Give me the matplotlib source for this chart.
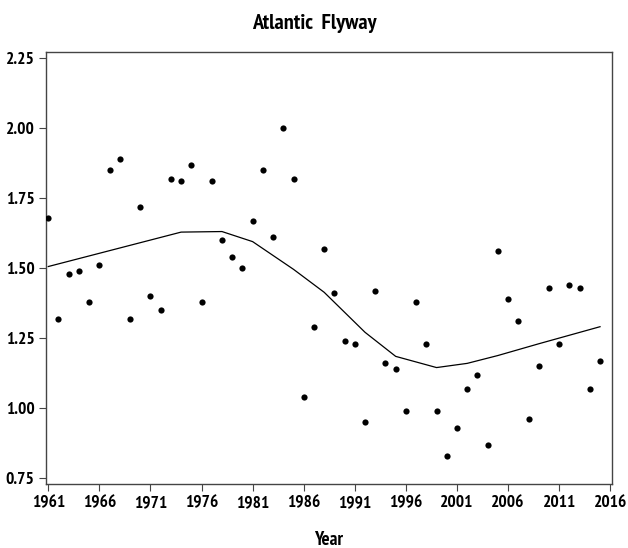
import matplotlib.pyplot as plt
import numpy as np

years = np.arange(1961, 2016)
ratio = [1.68, 1.32, 1.48, 1.49, 1.38, 1.51, 1.85, 1.89, 1.32, 1.72,
         1.40, 1.35, 1.82, 1.81, 1.87, 1.38, 1.81, 1.60, 1.54, 1.50,
         1.67, 1.85, 1.61, 2.00, 1.82, 1.04, 1.29, 1.57, 1.41, 1.24,
         1.23, 0.95, 1.42, 1.16, 1.14, 0.99, 1.38, 1.23, 0.99, 0.83,
         0.93, 1.07, 1.12, 0.87, 1.56, 1.39, 1.31, 0.96, 1.15, 1.43,
         1.23, 1.44, 1.43, 1.07, 1.17]

# smoothed trend
trend_years = [1961, 1974, 1978, 1981, 1985, 1988, 1992, 1995, 1999, 2002, 2005, 2009, 2015]
trend_vals = [1.506, 1.629, 1.631, 1.595, 1.496, 1.414, 1.271, 1.185, 1.145, 1.160, 1.188, 1.230, 1.291]

xticks = np.arange(1961, 2017, 5)
yticks = [0.75, 1.00, 1.25, 1.50, 1.75, 2.00, 2.25]

plt.rcParams['font.family'] = ['PT Sans Narrow', 'Liberation Sans']
plt.rcParams['font.weight'] = 'bold'
plt.rcParams['axes.labelweight'] = 'bold'

fig = plt.figure(figsize=(6.28, 5.48), dpi=100)
ax = fig.add_axes([0.0728, 0.1168, 0.9022, 0.7883])

ax.plot(trend_years, trend_vals, color='black', lw=0.9)
ax.scatter(years, ratio, s=20, color='black', zorder=3, linewidths=0)

ax.set_xlim(1960.75, 2016.2)
ax.set_ylim(0.729, 2.2725)
ax.set_xticks(xticks)
ax.set_yticks(yticks)
ax.set_yticklabels([f'{v:.2f}' for v in yticks])
ax.tick_params(direction='out', length=5, width=0.8, colors='#444444',
               labelcolor='black', labelsize=12.5, pad=3)
for s in ax.spines.values():
    s.set_color('#444444')
    s.set_linewidth(1)

ax.set_xlabel('Year', fontsize=13.5, labelpad=14)
fig.text(0.5, 0.958, 'Atlantic  Flyway', ha='center', va='center', fontsize=16)

fig.savefig('out.png', dpi=100)
